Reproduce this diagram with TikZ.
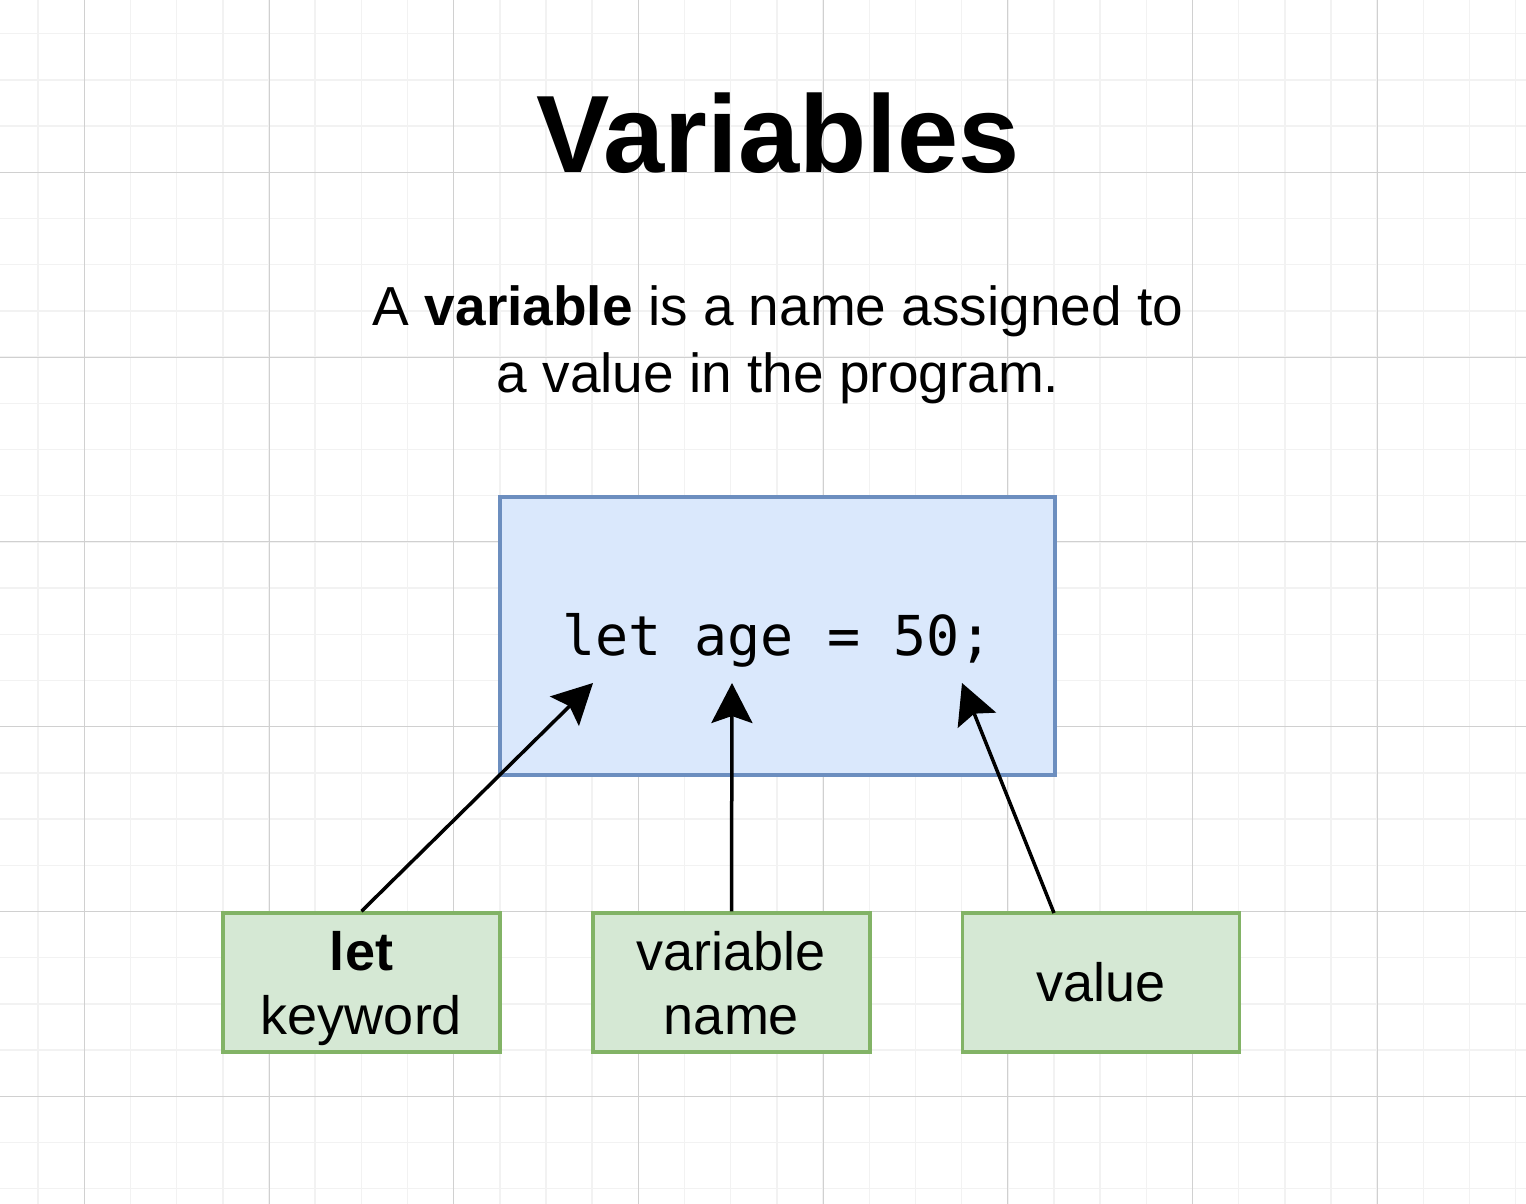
\documentclass[tikz,border=0pt]{standalone}
\usepackage{fontspec}
\setmainfont{Liberation Sans}
\setmonofont{DejaVu Sans Mono}
\usetikzlibrary{arrows.meta}
\definecolor{minorgrid}{HTML}{F2F2F2}
\definecolor{majorgrid}{HTML}{D0D0D0}
\definecolor{bluefill}{HTML}{DAE8FC}
\definecolor{bluestroke}{HTML}{6C8EBF}
\definecolor{greenfill}{HTML}{D5E8D4}
\definecolor{greenstroke}{HTML}{82B366}
\tikzset{
  minorline/.style={draw=minorgrid, line width=1.5pt},
  majorline/.style={draw=majorgrid, line width=1pt},
  codebox/.style={draw=bluestroke, fill=bluefill, line width=3.5pt, minimum width=555pt, minimum height=278pt, inner sep=0pt},
  codetext/.style={anchor=base, inner sep=0pt, font=\ttfamily\fontsize{55}{66}\selectfont},
  labelbox/.style={draw=greenstroke, fill=greenfill, line width=3.5pt, minimum width=277pt, minimum height=139pt, inner sep=0pt},
  labeltext/.style={anchor=base, inner sep=0pt, font=\fontsize{54}{63}\selectfont},
  desctext/.style={anchor=base, inner sep=0pt, font=\fontsize{55}{67}\selectfont},
  pointer/.style={draw=black, line width=3.5pt, -{Stealth[length=40pt, width=41pt, inset=7pt]}},
}
\begin{document}
\begin{tikzpicture}[x=1pt, y=-1pt]
\useasboundingbox (0,0) rectangle (1526,1204);
\fill[white] (0,0) rectangle (1526,1204);
% minor grid
\foreach \i in {0,...,33} {\draw[minorline] ({38.1+46.175*\i},0) -- ++(0,1204);}
\foreach \j in {0,...,26} {\draw[minorline] (0,{33.7+46.2*\j}) -- ++(1526,0);}
% major grid
\foreach \i in {0,...,7} {\draw[majorline] ({84.3+184.7*\i},0) -- ++(0,1204);}
\foreach \j in {0,...,5} {\draw[majorline] (0,{172.3+184.8*\j}) -- ++(1526,0);}

% title and description
\node[anchor=base, inner sep=0pt, font=\bfseries\fontsize{110}{130}\selectfont] (title) at (778,172) {Variables};
\node[desctext] (desc1) at (778,325) {A \textbf{variable} is a name assigned to};
\node[desctext] (desc2) at (778,392) {a value in the program.};

% code box
\node[codebox] (code) at (777.5,636) {};
\node[codetext] (codeline) at (777.5,655) {let age = 50;};

% label boxes
\node[labelbox] (kw) at (361.5,982.5) {};
\node[labelbox] (vn) at (731.5,982.5) {};
\node[labelbox] (val) at (1101,982.5) {};
\node[labeltext, font=\bfseries\fontsize{54}{63}\selectfont] (kwa) at (361.5,970) {let};
\node[labeltext] (kwb) at (361.5,1034) {keyword};
\node[labeltext] (vna) at (731.5,970) {variable};
\node[labeltext] (vnb) at (731.5,1034) {name};
\node[labeltext] (vala) at (1101,1001) {value};

% arrow targets
\coordinate (tkw) at (593,683);
\coordinate (tvn) at (732,683);
\coordinate (tval) at (962,683);
\coordinate (sval) at (1054,913);

\draw[pointer] (kw.north) -- (tkw);
\draw[pointer] (vn.north) -- (tvn);
\draw[pointer] (sval) -- (tval);
\end{tikzpicture}
\end{document}
